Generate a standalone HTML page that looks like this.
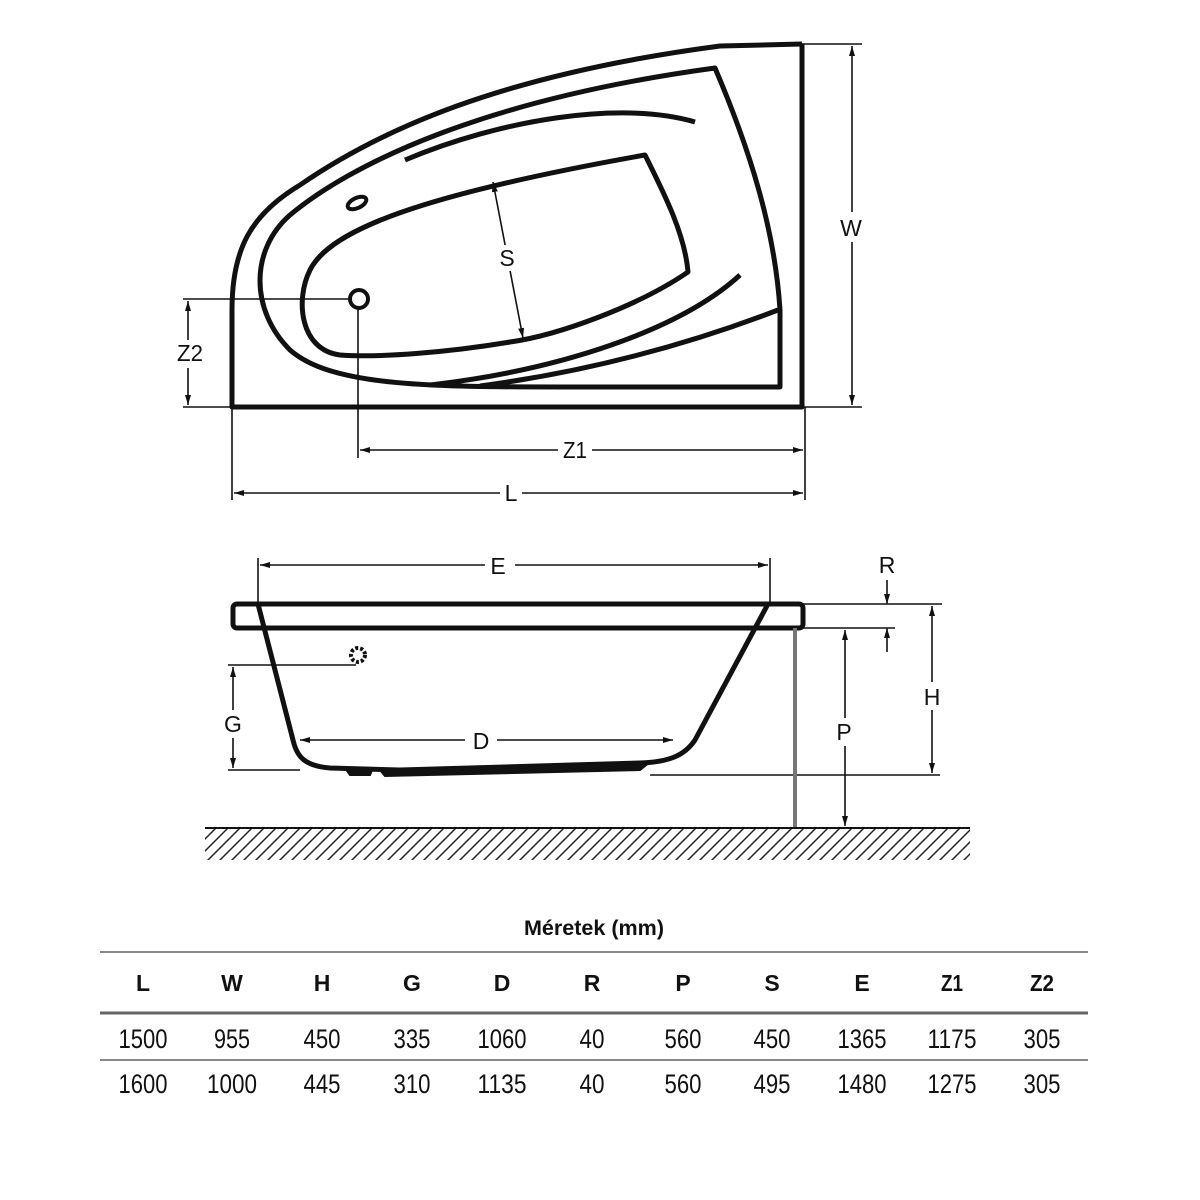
<!DOCTYPE html>
<html><head><meta charset="utf-8"><style>
html,body{margin:0;padding:0;background:#fff;width:1200px;height:1200px;overflow:hidden}
svg{display:block}
text{font-family:"Liberation Sans Narrow","Liberation Sans",sans-serif;fill:#111}
</style></head><body>
<svg width="1200" height="1200" viewBox="0 0 1200 1200" xmlns="http://www.w3.org/2000/svg">
<defs>
<marker id="a" viewBox="0 0 10 10" refX="10" refY="5" markerWidth="10" markerHeight="10" orient="auto-start-reverse" markerUnits="userSpaceOnUse"><path d="M0,2 L10,5 L0,8 z" fill="#111"/></marker>
<pattern id="h" width="12" height="12" patternUnits="userSpaceOnUse"><path d="M0,12 L12,0 M-3,3 L3,-3 M9,15 L15,9" stroke="#222" stroke-width="1.5"/></pattern>
</defs>
<g fill="none" stroke="#111" stroke-width="5" stroke-linejoin="round">
<path d="M802,44 L802,407 L232,407 L232,310 C232,250 250,215 300,185 C380,130 500,75 720,46 L802,44"/>
<path d="M715,68 C750,150 775,230 780,310 L780,387 L560,387 C420,387 330,385 290,350 C250,310 250,250 290,215 C350,165 480,100 715,68 Z"/>
<path d="M405,160 C500,120 620,100 695,122"/>
<path d="M740,275 C680,330 560,370 430,385"/>
<path d="M778,310 C700,340 600,370 480,386"/>
<path d="M645,155 C665,195 685,235 688,272 C640,305 560,335 510,342 C450,352 380,358 340,355 C300,350 295,300 310,270 C330,230 420,195 645,155 Z"/>
<ellipse cx="357" cy="203" rx="10" ry="5" transform="rotate(-25 357 203)" stroke-width="4"/>
<circle cx="359" cy="299" r="9" stroke-width="4"/>
<rect x="233" y="604" width="570" height="24" rx="4"/>
<path d="M258,604 L293,740 C297,758 306,766 330,768 L400,770 L640,763 C670,762 685,755 695,740 L768,604"/>
</g>
<path d="M345,768 L350,775 L370,775 L373,768 M380,770 L385,776 L640,770 L650,762" fill="#111" stroke="#111" stroke-width="2"/>
<g stroke="#111" stroke-width="1.6" fill="none">
<line x1="493" y1="182" x2="523" y2="338" marker-start="url(#a)" marker-end="url(#a)"/>
<line x1="802" y1="44" x2="862" y2="44"/><line x1="802" y1="407" x2="862" y2="407"/>
<line x1="852" y1="46" x2="852" y2="405" marker-start="url(#a)" marker-end="url(#a)"/>
<line x1="183" y1="299" x2="352" y2="299"/><line x1="183" y1="407" x2="232" y2="407"/>
<line x1="188" y1="301" x2="188" y2="405" marker-start="url(#a)" marker-end="url(#a)"/>
<line x1="358" y1="306" x2="358" y2="458"/>
<line x1="232" y1="407" x2="232" y2="500"/><line x1="805" y1="407" x2="805" y2="500"/>
<line x1="360" y1="450" x2="803" y2="450" marker-start="url(#a)" marker-end="url(#a)"/>
<line x1="234" y1="493" x2="803" y2="493" marker-start="url(#a)" marker-end="url(#a)"/>
<line x1="258" y1="558" x2="258" y2="604"/><line x1="770" y1="558" x2="770" y2="604"/>
<line x1="260" y1="565" x2="768" y2="565" marker-start="url(#a)" marker-end="url(#a)"/>
<line x1="228" y1="665" x2="356" y2="665"/><line x1="228" y1="770" x2="300" y2="770"/>
<line x1="233" y1="667" x2="233" y2="768" marker-start="url(#a)" marker-end="url(#a)"/>
<line x1="300" y1="740" x2="673" y2="740" marker-start="url(#a)" marker-end="url(#a)"/>
<line x1="650" y1="775" x2="940" y2="775"/>
<line x1="803" y1="604" x2="942" y2="604"/><line x1="803" y1="628" x2="895" y2="628"/>
<line x1="932" y1="606" x2="932" y2="773" marker-start="url(#a)" marker-end="url(#a)"/>
<line x1="845" y1="630" x2="845" y2="826" marker-start="url(#a)" marker-end="url(#a)"/>
<line x1="887" y1="580" x2="887" y2="604" marker-end="url(#a)"/>
<line x1="887" y1="652" x2="887" y2="628" marker-end="url(#a)"/>
</g>
<line x1="795" y1="628" x2="795" y2="828" stroke="#777" stroke-width="4"/>
<circle cx="358" cy="655" r="7" fill="none" stroke="#111" stroke-width="4" stroke-dasharray="3 2"/>
<rect x="205" y="829" width="765" height="31" fill="url(#h)"/>
<line x1="205" y1="828" x2="970" y2="828" stroke="#111" stroke-width="2"/>
<g font-size="23" text-anchor="middle">
<rect x="497" y="245" width="20" height="26" fill="#fff"/>
<text x="507" y="266">S</text>
<rect x="838" y="212" width="28" height="30" fill="#fff"/>
<text x="851" y="236">W</text>
<rect x="174" y="340" width="32" height="28" fill="#fff"/>
<text x="190" y="361" textLength="26" lengthAdjust="spacingAndGlyphs">Z2</text>
<rect x="558" y="440" width="34" height="22" fill="#fff"/>
<text x="575" y="458" textLength="24" lengthAdjust="spacingAndGlyphs">Z1</text>
<rect x="500" y="483" width="22" height="22" fill="#fff"/>
<text x="511" y="501">L</text>
<rect x="485" y="555" width="30" height="22" fill="#fff"/>
<text x="498" y="574">E</text>
<text x="887" y="573">R</text>
<rect x="918" y="682" width="28" height="28" fill="#fff"/>
<text x="932" y="705">H</text>
<rect x="831" y="718" width="28" height="28" fill="#fff"/>
<text x="844" y="740">P</text>
<rect x="221" y="710" width="24" height="28" fill="#fff"/>
<text x="233" y="732">G</text>
<rect x="465" y="728" width="32" height="26" fill="#fff"/>
<text x="481" y="749">D</text>
</g>
<text x="594" y="935" font-size="21" font-weight="bold" text-anchor="middle" textLength="140" lengthAdjust="spacingAndGlyphs">Méretek (mm)</text>
<line x1="100" y1="952" x2="1088" y2="952" stroke="#888" stroke-width="2"/>
<line x1="100" y1="1013" x2="1088" y2="1013" stroke="#666" stroke-width="3"/>
<line x1="100" y1="1060" x2="1088" y2="1060" stroke="#888" stroke-width="2"/>
<g font-size="23" font-weight="bold" text-anchor="middle">
<text x="143" y="991">L</text><text x="232" y="991">W</text><text x="322" y="991">H</text><text x="412" y="991">G</text><text x="502" y="991">D</text><text x="592" y="991">R</text><text x="683" y="991">P</text><text x="772" y="991">S</text><text x="862" y="991">E</text><text x="952" y="991" textLength="22" lengthAdjust="spacingAndGlyphs">Z1</text><text x="1042" y="991" textLength="24" lengthAdjust="spacingAndGlyphs">Z2</text>
</g>
<g font-size="27" text-anchor="middle" lengthAdjust="spacingAndGlyphs">
<text x="143" y="1048" textLength="49" lengthAdjust="spacingAndGlyphs">1500</text><text x="232" y="1048" textLength="36" lengthAdjust="spacingAndGlyphs">955</text><text x="322" y="1048" textLength="37" lengthAdjust="spacingAndGlyphs">450</text><text x="412" y="1048" textLength="37" lengthAdjust="spacingAndGlyphs">335</text><text x="502" y="1048" textLength="49" lengthAdjust="spacingAndGlyphs">1060</text><text x="592" y="1048" textLength="25" lengthAdjust="spacingAndGlyphs">40</text><text x="683" y="1048" textLength="37" lengthAdjust="spacingAndGlyphs">560</text><text x="772" y="1048" textLength="37" lengthAdjust="spacingAndGlyphs">450</text><text x="862" y="1048" textLength="49" lengthAdjust="spacingAndGlyphs">1365</text><text x="952" y="1048" textLength="49" lengthAdjust="spacingAndGlyphs">1175</text><text x="1042" y="1048" textLength="37" lengthAdjust="spacingAndGlyphs">305</text>
<text x="143" y="1093" textLength="49" lengthAdjust="spacingAndGlyphs">1600</text><text x="232" y="1093" textLength="50" lengthAdjust="spacingAndGlyphs">1000</text><text x="322" y="1093" textLength="37" lengthAdjust="spacingAndGlyphs">445</text><text x="412" y="1093" textLength="37" lengthAdjust="spacingAndGlyphs">310</text><text x="502" y="1093" textLength="49" lengthAdjust="spacingAndGlyphs">1135</text><text x="592" y="1093" textLength="25" lengthAdjust="spacingAndGlyphs">40</text><text x="683" y="1093" textLength="37" lengthAdjust="spacingAndGlyphs">560</text><text x="772" y="1093" textLength="37" lengthAdjust="spacingAndGlyphs">495</text><text x="862" y="1093" textLength="49" lengthAdjust="spacingAndGlyphs">1480</text><text x="952" y="1093" textLength="49" lengthAdjust="spacingAndGlyphs">1275</text><text x="1042" y="1093" textLength="37" lengthAdjust="spacingAndGlyphs">305</text>
</g>
</svg>
</body></html>
